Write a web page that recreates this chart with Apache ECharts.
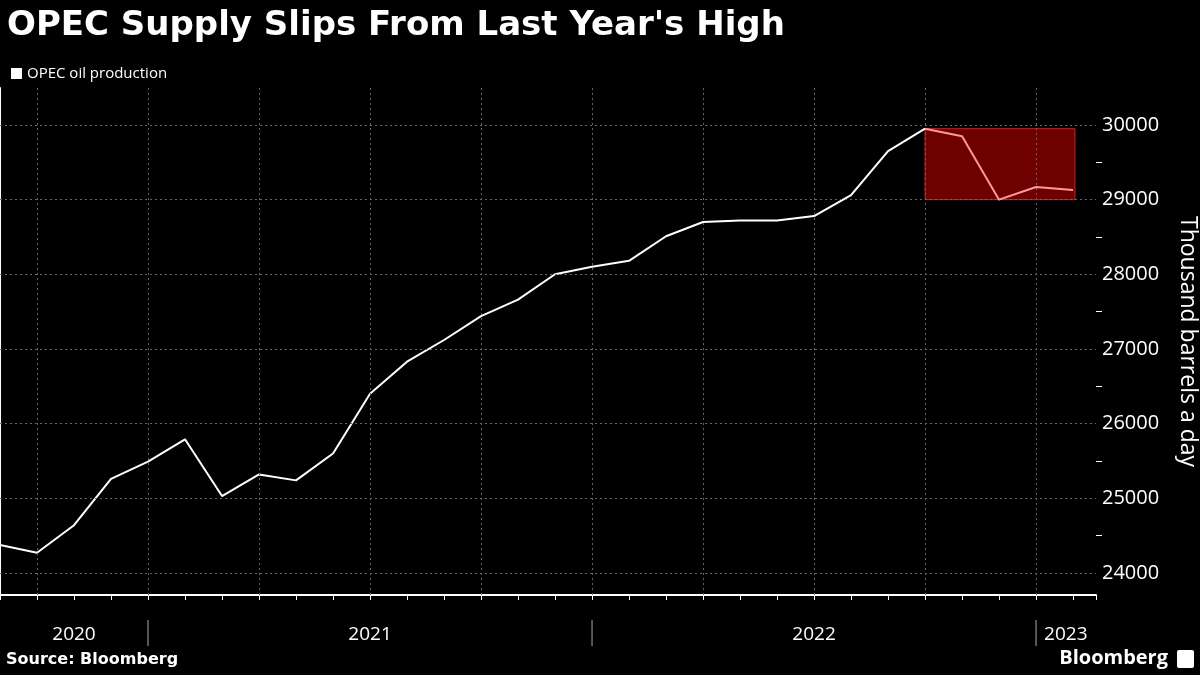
<!DOCTYPE html>
<html><head><meta charset="utf-8">
<script src="https://cdn.jsdelivr.net/npm/echarts@6/dist/echarts.min.js"></script>
<style>html,body{margin:0;background:#000}#c{width:1200px;height:675px}</style>
</head><body><div id="c"></div>
<script>
const months = ['2020-09','2020-10','2020-11','2020-12','2021-01','2021-02','2021-03','2021-04','2021-05','2021-06','2021-07','2021-08','2021-09','2021-10','2021-11','2021-12','2022-01','2022-02','2022-03','2022-04','2022-05','2022-06','2022-07','2022-08','2022-09','2022-10','2022-11','2022-12','2023-01','2023-02'];
const production = [24375,24270,24640,25260,25490,25790,25030,25320,25240,25600,26400,26830,27120,27440,27660,28000,28100,28180,28510,28700,28720,28720,28780,29060,29650,29950,29850,29000,29170,29130];
const yTicks = [24000,25000,26000,27000,28000,29000,30000];
const yMinor = [23500,24500,25500,26500,27500,28500,29500,30500];
const quarterIdx = [1,4,7,10,13,16,19,22,25,28];
const years = [{label:'2020',from:0,to:4,sep:null},{label:'2021',from:4,to:16,sep:4},{label:'2022',from:16,to:28,sep:16},{label:'2023',from:28,to:null,sep:28}];
const highlightStart = 25;

const chart = echarts.init(document.getElementById('c'));
const FONT = '"Open Sans", "Noto Sans", sans-serif';
const mainData = production.map((v,i)=>[i,v]).slice(0, highlightStart+1);
const hiData = production.map((v,i)=>[i,v]).slice(highlightStart);
const grid = {left:0,right:104,top:88,bottom:80,outerBoundsMode:'none',containLabel:false};
chart.setOption({
  backgroundColor:'#000',
  animation:false,
  title:{text:"OPEC Supply Slips From Last Year's High",left:2,top:4,textStyle:{color:'#fff',fontSize:34,fontWeight:'bold',fontFamily:'"DejaVu Sans", sans-serif'}},
  legend:{data:[{name:'OPEC oil production',icon:'rect'}],left:6,top:61,itemWidth:11,itemHeight:11,itemGap:4,textStyle:{color:'#fff',fontSize:15,fontFamily:FONT}},
  grid:grid,
  xAxis:{type:'value',min:0,max:29.62,interval:1,
    axisLine:{lineStyle:{color:'#fff',width:2}},axisTick:{show:true,length:5,lineStyle:{color:'#fff'}},
    axisLabel:{show:false},splitLine:{show:false}},
  yAxis:[{type:'value',min:23705,max:30495,position:'right',
    axisLine:{show:true,lineStyle:{color:'#fff',width:2}},
    axisTick:{show:true,inside:true,length:5,customValues:yTicks,lineStyle:{color:'#fff'}},
    axisLabel:{customValues:yTicks,formatter:v=>String(v),color:'#fff',fontSize:20,margin:6,fontFamily:FONT},
    splitLine:{show:false},
    name:'Thousand barrels a day',nameLocation:'middle',nameRotate:-90,nameGap:80,
    nameTextStyle:{color:'#fff',fontSize:23,fontFamily:FONT}},
   {type:'value',min:23705,max:30495,position:'right',
    axisLine:{show:false},axisTick:{show:true,length:6,customValues:yMinor,lineStyle:{color:'#fff'}},
    axisLabel:{show:false},splitLine:{show:false}}],
  series:[
    {name:'OPEC oil production',type:'line',data:mainData,symbol:'none',color:'#fff',lineStyle:{color:'#fff',width:2},
     markLine:{silent:true,symbol:'none',label:{show:false},
       lineStyle:{color:'#666',type:[2,3],width:1},
       data:yTicks.map(v=>({yAxis:v})).concat(quarterIdx.map(i=>({xAxis:i})))},
     markArea:{silent:true,itemStyle:{color:'rgba(110,0,0,1)',borderColor:'#d02020',borderWidth:1},
       data:[[{coord:[highlightStart,29000]},{coord:[29.05,29950]}]]}},
    {name:'hi',type:'line',data:hiData,symbol:'none',lineStyle:{color:'#ff9a9a',width:2},z:5}
  ]
});
const g=[];
const yLab = 635, sepTop=620, sepBot=646;
years.forEach(y=>{
  const x0 = Math.max(0, chart.convertToPixel({xAxisIndex:0},y.from));
  if(y.sep!==null){
    const xs = chart.convertToPixel({xAxisIndex:0},y.sep);
    g.push({type:'line',shape:{x1:xs,y1:sepTop,x2:xs,y2:sepBot},style:{stroke:'#aaa',lineWidth:1}});
  }
  if(y.to!==null){
    const x1 = chart.convertToPixel({xAxisIndex:0},y.to);
    g.push({type:'text',x:(x0+x1)/2,y:yLab,style:{text:y.label,fill:'#fff',fontSize:19,fontFamily:FONT,align:'center',verticalAlign:'middle'}});
  } else {
    g.push({type:'text',x:x0+8,y:yLab,style:{text:y.label,fill:'#fff',fontSize:19,fontFamily:FONT,align:'left',verticalAlign:'middle'}});
  }
});
g.push({type:'text',left:6,top:652,style:{text:'Source: Bloomberg',fill:'#fff',fontSize:16,fontWeight:'bold',fontFamily:'"DejaVu Sans", sans-serif'}});
g.push({type:'text',right:32,top:648,style:{text:'Bloomberg',fill:'#fff',fontSize:20,fontWeight:'bold',fontFamily:FONT}});
g.push({type:'rect',right:6,top:650,shape:{width:17,height:18,r:2},style:{fill:'#fff'}});
chart.setOption({graphic:g});
</script></body></html>
